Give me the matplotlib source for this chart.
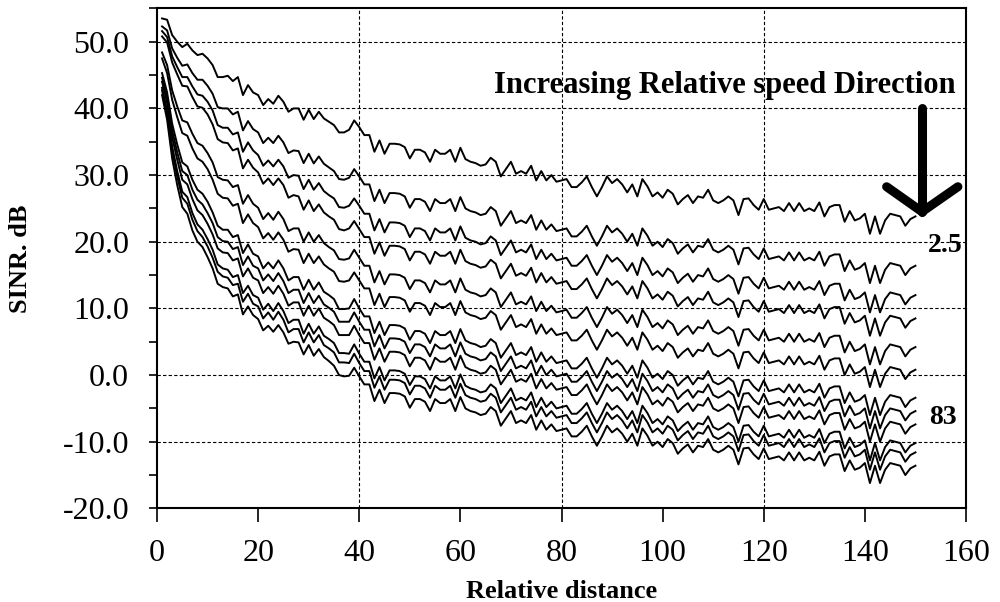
import numpy as np
import matplotlib
matplotlib.use("Agg")
import matplotlib.pyplot as plt

plt.rcParams['font.family'] = ['Liberation Serif', 'DejaVu Serif']

# relative distance 1..150
distance = np.arange(1, 151)

# top curve (lowest relative speed), SINR dB
sinr_top = [
    53.5, 53.3, 51.0, 50.0, 49.2, 49.7, 48.7, 48.0, 48.2, 47.5,
    46.5, 44.7, 44.7, 44.9, 44.1, 44.7, 42.0, 43.5, 42.4, 42.0,
    40.5, 41.4, 40.7, 41.9, 41.0, 39.5, 40.0, 40.0, 38.3, 39.8,
    38.4, 39.5, 38.5, 38.0, 37.5, 36.4, 36.4, 36.8, 38.2, 37.2,
    36.0, 36.0, 33.5, 35.2, 33.2, 34.7, 34.7, 34.6, 34.2, 32.5,
    33.8, 33.8, 33.4, 32.0, 33.8, 33.2, 33.2, 33.8, 32.0, 34.1,
    32.4, 32.0, 31.8, 31.4, 31.6, 32.6, 32.0, 29.8, 30.9, 32.0,
    30.2, 30.6, 30.2, 31.4, 29.2, 30.6, 29.2, 30.0, 29.0, 29.2,
    29.4, 28.2, 28.2, 28.9, 29.8, 28.2, 26.8, 28.2, 29.8, 28.8,
    29.4, 28.6, 27.4, 28.6, 26.8, 29.4, 28.3, 26.8, 27.4, 26.6,
    27.8, 27.2, 25.6, 26.4, 27.0, 25.8, 26.8, 26.6, 27.8, 26.2,
    25.8, 26.2, 26.8, 26.2, 24.0, 26.4, 26.5, 25.5, 24.8, 26.4,
    24.8, 25.0, 25.2, 24.6, 25.8, 24.6, 25.8, 24.6, 25.0, 24.6,
    25.9, 23.8, 25.2, 25.5, 25.5, 23.0, 24.6, 23.2, 23.5, 24.2,
    21.2, 23.8, 21.2, 23.2, 24.2, 24.0, 23.8, 22.4, 23.4, 23.8,
]

# drop of every other curve below the top one, distance 1..40 (dB)
gap_02 = [1.2, 1.6, 2.0, 2.4, 2.8, 3.1, 3.4, 3.7, 3.9, 4.1, 4.3, 4.5, 4.7, 4.9, 5.0, 5.2, 5.3, 5.4, 5.5, 5.6,
          5.7, 5.8, 5.9, 6.0, 6.1, 6.2, 6.3, 6.4, 6.5, 6.6, 6.65, 6.7, 6.8, 6.85, 6.9, 7.0, 7.1, 7.2, 7.3, 7.4]
gap_03 = [1.9, 2.6, 3.2, 3.8, 4.5, 5.0, 5.4, 5.9, 6.3, 6.5, 6.8, 7.2, 7.6, 7.8, 8.0, 8.3, 8.5, 8.6, 8.7, 9.0,
          9.1, 9.2, 9.4, 9.6, 9.7, 9.9, 10.0, 10.1, 10.4, 10.5, 10.6, 10.7, 10.9, 11.0, 11.0, 11.2, 11.3, 11.4, 11.7, 11.8]
gap_04 = [2.7, 3.4, 4.1, 4.9, 5.8, 6.4, 7.0, 7.7, 8.1, 8.4, 8.9, 9.3, 9.8, 10.1, 10.4, 10.7, 11.0, 11.2, 11.3, 11.6,
          11.8, 11.9, 12.2, 12.4, 12.5, 12.9, 13.0, 13.2, 13.5, 13.6, 13.8, 13.9, 14.1, 14.2, 14.2, 14.5, 14.7, 14.8, 15.1, 15.3]
gap_05 = [5.1, 6.8, 8.3, 9.7, 11.0, 11.8, 12.5, 13.2, 13.8, 14.2, 14.6, 15.0, 15.4, 15.7, 15.9, 16.2, 16.3, 16.5, 16.7, 16.9,
          17.1, 17.1, 17.4, 17.4, 17.6, 17.9, 18.0, 18.0, 18.3, 18.4, 18.4, 18.5, 18.7, 18.8, 18.8, 19.0, 19.1, 19.3, 19.4, 19.6]
gap_06 = [6.0, 8.0, 9.7, 11.3, 12.9, 13.8, 14.7, 15.5, 16.2, 16.6, 17.2, 17.5, 18.1, 18.4, 18.7, 19.0, 19.2, 19.4, 19.6, 19.8,
          20.0, 20.1, 20.4, 20.5, 20.7, 21.0, 21.1, 21.2, 21.5, 21.6, 21.6, 21.7, 21.9, 22.0, 22.0, 22.3, 22.4, 22.6, 22.8, 23.0]
gap_07 = [8.2, 10.9, 13.3, 15.4, 17.3, 18.4, 19.4, 20.2, 21.0, 21.5, 22.1, 22.3, 22.9, 23.1, 23.4, 23.7, 23.7, 23.9, 24.2, 24.2,
          24.5, 24.5, 24.7, 24.7, 25.0, 25.3, 25.3, 25.3, 25.5, 25.5, 25.6, 25.6, 26.0, 26.0, 26.1, 26.5, 26.5, 26.8, 26.8, 27.2]
gap_08 = [8.9, 11.7, 14.3, 16.6, 18.6, 19.7, 20.9, 21.7, 22.6, 23.2, 23.7, 24.0, 24.6, 24.9, 25.2, 25.5, 25.5, 25.7, 26.0, 26.0,
          26.3, 26.3, 26.6, 26.6, 26.9, 27.2, 27.2, 27.2, 27.5, 27.5, 27.6, 27.6, 27.9, 27.9, 28.0, 28.4, 28.4, 28.8, 28.8, 29.2]
gap_09 = [9.5, 12.5, 15.3, 17.7, 19.9, 21.1, 22.3, 23.3, 24.2, 24.8, 25.4, 25.7, 26.3, 26.6, 26.9, 27.2, 27.2, 27.5, 27.8, 27.8,
          28.2, 28.2, 28.5, 28.5, 28.8, 29.1, 29.1, 29.1, 29.4, 29.4, 29.5, 29.5, 29.9, 29.9, 30.0, 30.4, 30.4, 30.8, 30.8, 31.2]
gap_10 = [10.4, 13.7, 16.7, 19.4, 21.7, 23.0, 24.4, 25.4, 26.4, 27.1, 27.7, 28.1, 28.7, 29.1, 29.4, 29.7, 29.7, 30.1, 30.4, 30.4,
          30.7, 30.7, 31.1, 31.1, 31.4, 31.7, 31.7, 31.7, 32.1, 32.1, 32.2, 32.2, 32.6, 32.6, 32.7, 33.1, 33.1, 33.6, 33.6, 34.0]
gap_11 = [10.8, 14.3, 17.4, 20.2, 22.6, 24.0, 25.4, 26.4, 27.5, 28.2, 28.9, 29.2, 29.9, 30.3, 30.6, 31.0, 31.0, 31.3, 31.7, 31.7,
          32.0, 32.0, 32.4, 32.4, 32.7, 33.1, 33.1, 33.1, 33.4, 33.4, 33.5, 33.5, 34.0, 34.0, 34.1, 34.5, 34.5, 35.0, 35.0, 35.4]
gap_12 = [11.5, 15.0, 18.5, 21.5, 24.0, 25.5, 27.0, 28.0, 29.0, 29.8, 30.5, 31.0, 31.5, 31.9, 32.3, 32.6, 32.9, 33.2, 33.4, 33.6,
          33.8, 34.0, 34.2, 34.4, 34.6, 34.8, 35.0, 35.1, 35.2, 35.3, 35.5, 35.6, 35.8, 35.9, 36.1, 36.4, 36.6, 36.9, 37.1, 37.4]
near_gaps = [gap_02, gap_03, gap_04, gap_05, gap_06, gap_07, gap_08, gap_09, gap_10, gap_11, gap_12]
# beyond distance 40 the curves run parallel to the top one
far_gaps = [7.4, 11.8, 15.3, 19.6, 23.0, 27.2, 29.2, 31.2, 34.0, 35.4, 37.4]

fig, ax = plt.subplots(figsize=(10, 6.02), dpi=100)
fig.subplots_adjust(left=0.157, right=0.966, top=0.986, bottom=0.1555)

top = np.array(sinr_top)
ax.plot(distance, top, color='black', lw=1.4, zorder=3)
for near, far in zip(near_gaps, far_gaps):
    gap = np.concatenate([near, np.full(len(distance) - len(near), far)])
    ax.plot(distance, top - gap, color='black', lw=1.4, zorder=3)

# dashed grid
for gx in [40, 80, 120, 160]:
    ax.axvline(gx, color='black', lw=0.8, ls=(0, (3, 2)), zorder=1)
for gy in range(-10, 51, 10):
    ax.axhline(gy, color='black', lw=0.8, ls=(0, (3, 2)), zorder=1)

ax.set_xlim(0, 160)
ax.set_ylim(-20, 55)
ax.set_xticks(range(0, 161, 20))
ax.set_yticks(range(-20, 51, 10))
ax.set_yticklabels(['%.1f' % v for v in range(-20, 51, 10)])
ax.set_yticks(range(-15, 56, 10), minor=True)
ax.tick_params(axis='x', direction='out', length=10, width=1.2, labelsize=23, pad=12)
ax.tick_params(axis='y', which='both', direction='out', length=6, width=1.2, labelsize=23, pad=14)
for sp in ax.spines.values():
    sp.set_linewidth(1.5)

ax.set_xlabel('Relative distance', fontsize=19, fontweight='bold')
ax.set_ylabel('SINR. dB', fontsize=19, fontweight='bold')
ax.xaxis.set_label_coords(0.5, -0.143)
ax.yaxis.set_label_coords(-0.155, 0.5)

ax.text(112.3, 43.4, 'Increasing Relative speed Direction', fontsize=22,
        fontweight='bold', ha='center', va='center')
ax.text(155.9, 19.5, '2.5', fontsize=20, fontweight='bold', ha='center', va='center')
ax.text(155.5, -6.4, '83', fontsize=20, fontweight='bold', ha='center', va='center')

# thick arrow
ax.plot([151.3, 151.3], [40.0, 24.5], color='black', lw=6.5, solid_capstyle='round', zorder=4)
ax.plot([144.3, 151.3, 158.4], [28.25, 24.5, 28.25], color='black', lw=6.5,
        solid_capstyle='round', solid_joinstyle='miter', zorder=4)

plt.savefig('out.png', dpi=100)
